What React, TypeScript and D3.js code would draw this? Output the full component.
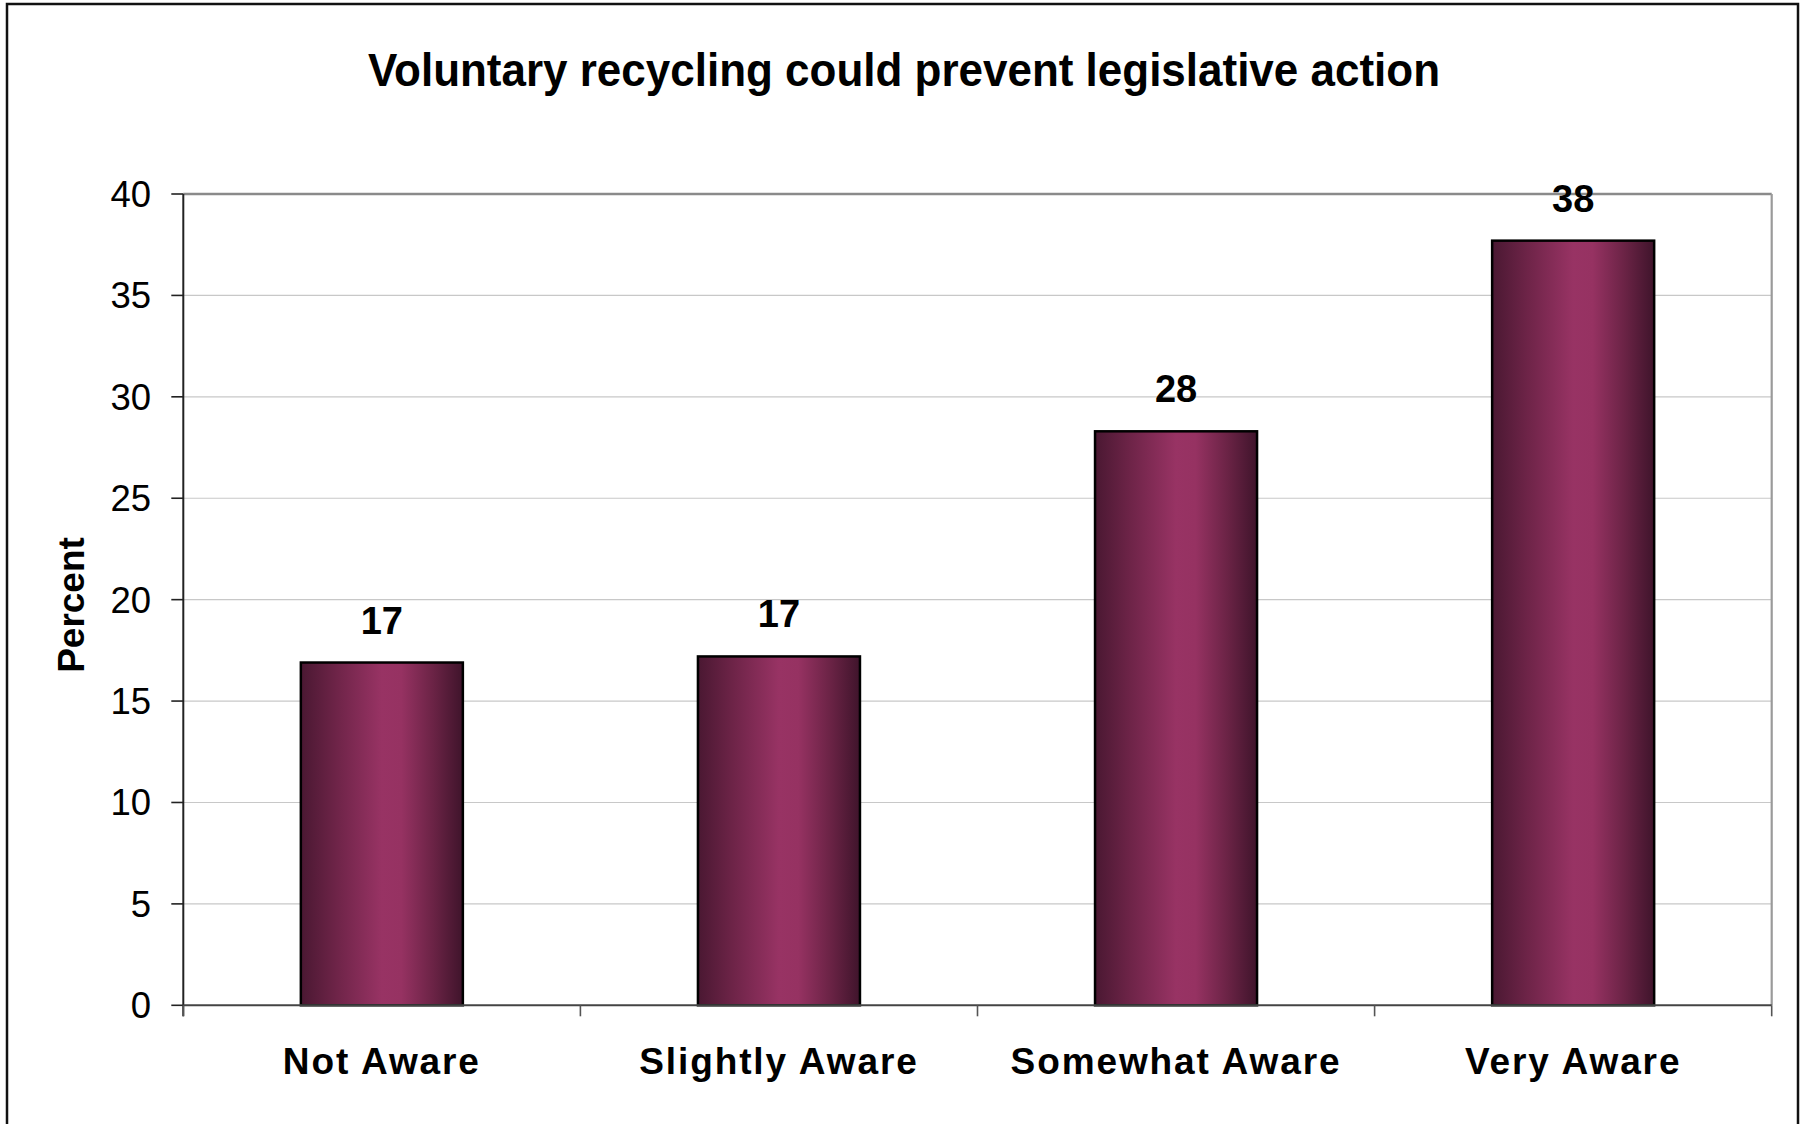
import React from "react";
import * as d3 from "d3";

const categories = ["Not Aware", "Slightly Aware", "Somewhat Aware", "Very Aware"];
const values = [16.9, 17.2, 28.3, 37.7];
const labels = ["17", "17", "28", "38"];
const yTicks = [0, 5, 10, 15, 20, 25, 30, 35, 40];
const title = "Voluntary recycling could prevent legislative action";
const yTitle = "Percent";

const W = 1803;
const H = 1124;
const plot = { left: 183.3, right: 1771.7, top: 194, bottom: 1005.3 };
const FONT = "'Liberation Sans', Arial, Helvetica, sans-serif";

export default function App() {
  const x = d3
    .scaleBand<string>()
    .domain(categories)
    .range([plot.left, plot.right])
    .paddingInner(0.592)
    .paddingOuter(0.296);
  const y = d3.scaleLinear().domain([0, 40]).range([plot.bottom, plot.top]);
  const step = x.step();
  const boundaries = d3.range(categories.length + 1).map((i) => plot.left + i * step);

  return (
    <svg
      width={W}
      height={H}
      viewBox={`0 0 ${W} ${H}`}
      style={{ position: "absolute", left: 0, top: 0, background: "#fff" }}
    >
      <defs>
        <linearGradient id="barGrad" x1="0" x2="1" y1="0" y2="0">
          <stop offset="0" stopColor="#4a1832" />
          <stop offset="0.22" stopColor="#6e2448" />
          <stop offset="0.5" stopColor="#983364" />
          <stop offset="0.62" stopColor="#963262" />
          <stop offset="0.82" stopColor="#6a2345" />
          <stop offset="1" stopColor="#3f142b" />
        </linearGradient>
      </defs>
      <rect x={0} y={0} width={W} height={H} fill="#fff" />
      {/* outer frame */}
      <rect x={7} y={4} width={1791} height={H + 20} fill="none" stroke="#111" strokeWidth={2.5} />

      {/* title */}
      <text
        x={904}
        y={86}
        textAnchor="middle"
        fontFamily={FONT}
        fontWeight="bold"
        fontSize={46}
        textLength={1072}
        lengthAdjust="spacingAndGlyphs"
        fill="#000"
      >
        {title}
      </text>

      {/* gridlines */}
      {yTicks
        .filter((t) => t > 0 && t < 40)
        .map((t) => (
          <line
            key={"g" + t}
            x1={plot.left}
            x2={plot.right}
            y1={y(t)}
            y2={y(t)}
            stroke="#c8c8c8"
            strokeWidth={1.2}
          />
        ))}

      {/* plot border top/right */}
      <line x1={plot.left} x2={plot.right} y1={plot.top} y2={plot.top} stroke="#8a8a8a" strokeWidth={2.5} />
      <line x1={plot.right} x2={plot.right} y1={plot.top} y2={plot.bottom} stroke="#9a9a9a" strokeWidth={2.2} />

      {/* bars */}
      {categories.map((c, i) => (
        <rect
          key={c}
          x={x(c)}
          y={y(values[i])}
          width={x.bandwidth()}
          height={y(0) - y(values[i])}
          fill="url(#barGrad)"
          stroke="#000"
          strokeWidth={2.5}
        />
      ))}

      {/* axes */}
      <line x1={plot.left} x2={plot.left} y1={plot.top} y2={plot.bottom + 11} stroke="#222" strokeWidth={2} />
      <line x1={plot.left} x2={plot.right} y1={plot.bottom} y2={plot.bottom} stroke="#444" strokeWidth={2} />
      {yTicks.map((t) => (
        <g key={"t" + t}>
          <line x1={plot.left - 12} x2={plot.left} y1={y(t)} y2={y(t)} stroke="#222" strokeWidth={1.6} />
          <text
            x={151}
            y={y(t)}
            dy="0.355em"
            textAnchor="end"
            fontFamily={FONT}
            fontSize={36.5}
            fill="#000"
          >
            {t}
          </text>
        </g>
      ))}
      {boundaries.map((bx, i) => (
        <line key={"xt" + i} x1={bx} x2={bx} y1={plot.bottom} y2={plot.bottom + 11} stroke="#555" strokeWidth={1.6} />
      ))}

      {/* value labels */}
      {categories.map((c, i) => (
        <text
          key={"v" + c}
          x={(x(c) as number) + x.bandwidth() / 2}
          y={y(values[i]) - 29}
          textAnchor="middle"
          fontFamily={FONT}
          fontWeight="bold"
          fontSize={38}
          fill="#000"
        >
          {labels[i]}
        </text>
      ))}

      {/* category labels */}
      {categories.map((c) => (
        <text
          key={"c" + c}
          x={(x(c) as number) + x.bandwidth() / 2}
          y={1074}
          textAnchor="middle"
          fontFamily={FONT}
          fontWeight="bold"
          fontSize={37}
          letterSpacing={1.9}
          fill="#000"
        >
          {c}
        </text>
      ))}

      {/* y title */}
      <text
        transform={`translate(84, 605) rotate(-90)`}
        textAnchor="middle"
        fontFamily={FONT}
        fontWeight="bold"
        fontSize={37}
        fill="#000"
      >
        {yTitle}
      </text>
    </svg>
  );
}
